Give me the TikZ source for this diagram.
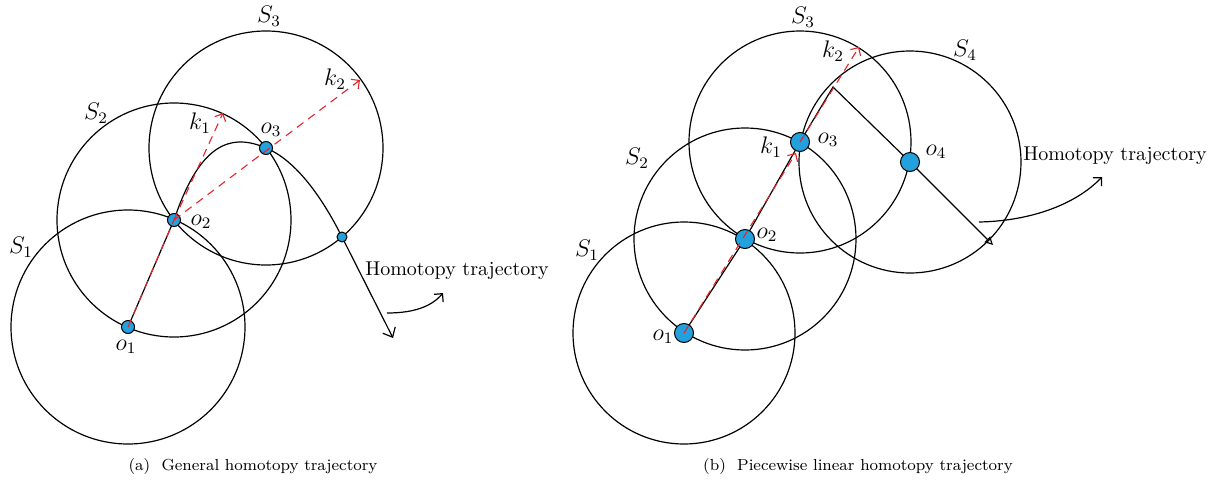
\documentclass[tikz,border=0pt]{standalone}
\usetikzlibrary{arrows.meta}

\definecolor{dotblue}{RGB}{35,161,220}
\definecolor{kred}{RGB}{232,36,40}

\tikzset{
  ring/.style={draw=black, line width=0.6pt},
  trajline/.style={draw=black, line width=0.6pt},
  kline/.style={draw=kred, line width=0.55pt, dash pattern=on 4pt off 3pt},
  centreA/.style={circle, draw=black, line width=0.5pt, fill=dotblue, inner sep=0pt, minimum size=6.5pt},
  centreB/.style={centreA, minimum size=9.5pt},
  lbl/.style={font=\fontsize{10}{12}\selectfont, inner sep=0pt},
  mlbl/.style={font=\fontsize{11.5}{13}\selectfont, inner sep=0pt},
  capt/.style={font=\fontsize{8}{10}\selectfont, inner sep=0pt},
  barb/.style={-{Straight Barb[length=3pt, width=6pt]}}
}

\begin{document}
\begin{tikzpicture}[x=0.5pt, y=-0.5pt]
\useasboundingbox (0,0) rectangle (1212,488);

%% === (a) general homotopy trajectory ===
\coordinate (oA1)  at (128,327);
\coordinate (oA2)  at (174,220);
\coordinate (oA3)  at (266,148);
\coordinate (xA)   at (342,237);
\coordinate (kA1)  at (223,113);
\coordinate (kA2)  at (360,80);
\coordinate (endA) at (393,338);
\coordinate (hA1)  at (387,313);
\coordinate (hA2)  at (443,293);

\foreach \c in {oA1,oA2,oA3} \draw[ring] (\c) circle[radius=117];

\draw[trajline, -{Straight Barb[length=4pt, width=7pt]}]
  (oA1) -- (oA2) .. controls (197,152) and (225,130) .. (oA3)
  .. controls (300,162) and (327,207) .. (xA) -- (endA);

\foreach \c in {oA1,oA2,oA3} \node[centreA] (d\c) at (\c) {};
\node[centreA, minimum size=5pt] (dxA) at (xA) {};

\draw[kline] (oA1) -- (oA2);
\draw[kline, barb] (oA2) -- (kA1);
\draw[kline, barb] (oA2) -- (kA2);

\draw[trajline, barb] (hA1) .. controls (415,313) and (432,306) .. (hA2);

\foreach \t/\x/\y in {S_1/21/247, S_2/96/113, S_3/269/16, k_1/200/123,
                      k_2/335/79, o_1/126/347, o_2/201/222, o_3/271/130}
  \node[mlbl] at (\x,\y) {$\t$};

\node[lbl] (homA) at (457,271) {Homotopy trajectory};
\node[capt] (capA) at (253,466) {(a)\ \ General homotopy trajectory};

%% === (b) piecewise linear homotopy trajectory ===
\coordinate (oB1)  at (684,333);
\coordinate (oB2)  at (745,239);
\coordinate (oB3)  at (800,142);
\coordinate (oB4)  at (910,162);
\coordinate (cB)   at (833,87);
\coordinate (endB) at (993,245);
\coordinate (kB1)  at (796,153);
\coordinate (kB2)  at (859,47);
\coordinate (hB1)  at (979,222);
\coordinate (hB2)  at (1102,177);

\foreach \c in {oB1,oB2,oB3,oB4} \draw[ring] (\c) circle[radius=111];

\draw[trajline, -{Triangle[open, length=4pt, width=4pt]}]
  (oB1) -- (oB2) -- (oB3) -- (cB) -- (oB4) -- (endB);

\foreach \c in {oB1,oB2,oB3,oB4} \node[centreB] (d\c) at (\c) {};

\draw[kline, barb] (oB1) -- (kB1);
\draw[kline, barb] (oB3) -- (kB2);

\draw[trajline, barb] (hB1) .. controls (1030,221) and (1075,205) .. (hB2);

\foreach \t/\x/\y in {S_1/587/250, S_2/637/158, S_3/803/17, S_4/965/50,
                      k_1/771/147, k_2/833/51, o_1/663/337, o_2/767/235,
                      o_3/828/140, o_4/936/152}
  \node[mlbl] at (\x,\y) {$\t$};

\node[lbl] (homB) at (1115,156) {Homotopy trajectory};
\node[capt] (capB) at (858,466) {(b)\ \ Piecewise linear homotopy trajectory};

\end{tikzpicture}
\end{document}
